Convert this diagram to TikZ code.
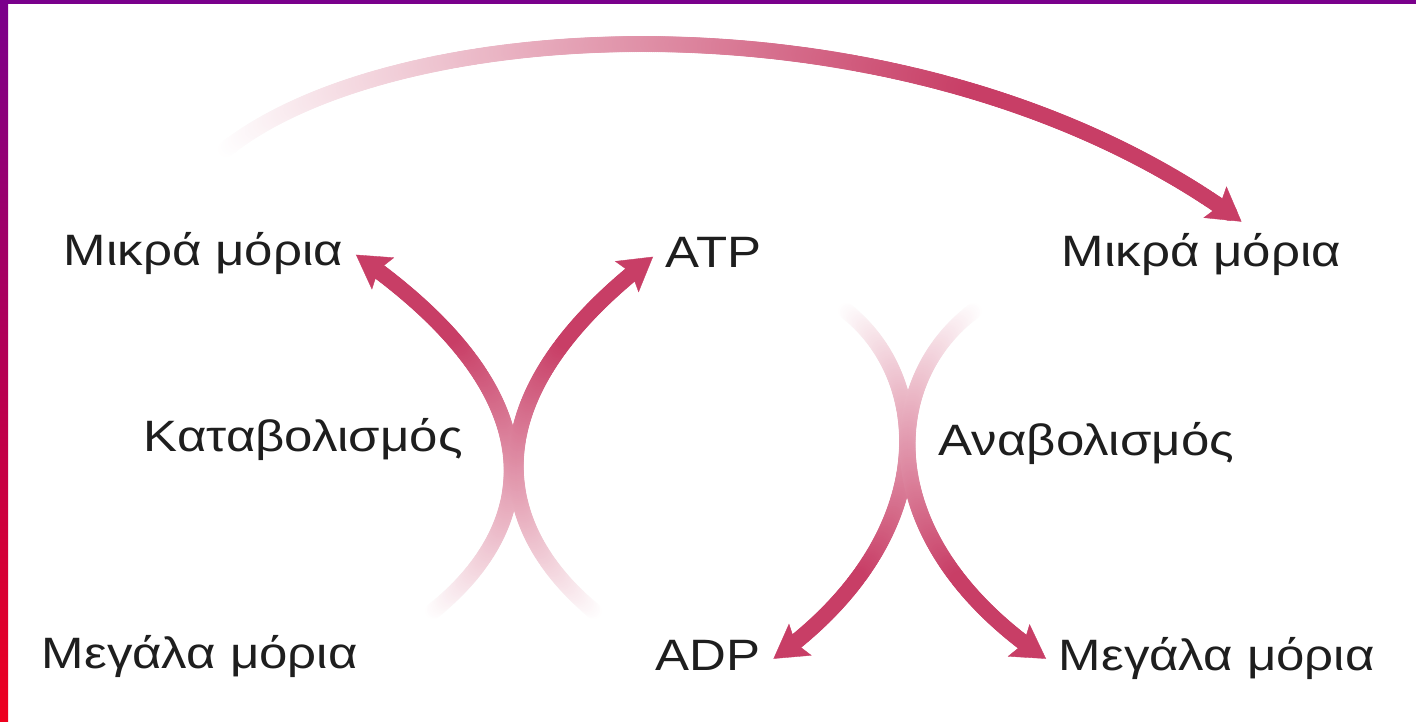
\documentclass[tikz,border=0pt]{standalone}
\usepackage{fontspec}
\setmainfont{Liberation Sans}[FakeStretch=1.16]
\usetikzlibrary{arrows.meta}
\usetikzlibrary{decorations.markings}
\definecolor{rose}{RGB}{200,62,102}
\definecolor{inktext}{RGB}{30,30,30}
\definecolor{framepurple}{RGB}{122,0,140}
\definecolor{framered}{RGB}{238,0,30}

\begin{document}
\begin{tikzpicture}[x=0.02cm, y=-0.02cm,
  term/.style={anchor=base west, inner sep=0.25cm, text height=0.65cm, text depth=0.2cm,
    text=inktext, font=\fontsize{25}{30}\selectfont},
  fadearrow/.style={draw=rose, line width=0.2pt,
    -{Stealth[length=0.66cm, width=0.78cm, inset=0.12cm]},
    decoration={markings,
      mark=between positions 0 and -5mm step 0.4mm with {
        \pgfmathsetmacro\fadeval{min(100,140*(\pgfkeysvalueof{/pgf/decoration/mark info/distance from start}/\pgfdecoratedpathlength))}
        \fill[rose!\fadeval!white] (0,0) circle [radius=0.16cm];}},
    postaction=decorate}]

\useasboundingbox (0,0) rectangle (1416,722);
\fill[white] (0,0) rectangle (1416,722);
\shade[top color=framepurple, bottom color=framered] (0,0) rectangle (8,722);
\fill[framepurple] (0,0) rectangle (1416,4);

\node[term] (mikraL) at (51,266) {Μικρά μόρια};
\node[term] (atp) at (653,268) {ATP};
\node[term] (mikraR) at (1049,267) {Μικρά μόρια};

\node[term] (kata) at (131,452) {Καταβολισμός};
\node[term] (ana) at (926,456) {Αναβολισμός};

\node[term] (megalaL) at (29,668) {Μεγάλα μόρια};
\node[term] (adp) at (643,670) {ADP};
\node[term] (megalaR) at (1046,670) {Μεγάλα μόρια};

\coordinate (kataL0) at (432,612);
\coordinate (kataR0) at (595,612);
\coordinate (anaL0) at (845,310);
\coordinate (anaR0) at (975,310);
\coordinate (arcL0) at (225,150);

\path[fadearrow] (kataL0) .. controls (535,530) and (565,400) .. (mikraL.east);
\path[fadearrow] (kataR0) .. controls (495,530) and (465,400) .. (atp.west);

\path[fadearrow] (anaL0) .. controls (935,380) and (940,540) .. (adp.east);
\path[fadearrow] (anaR0) .. controls (880,380) and (870,540) .. (megalaR.west);

\path[fadearrow] (arcL0) .. controls (400,10) and (920,-15) .. ([xshift=0.8cm]mikraR.north);

\end{tikzpicture}
\end{document}
